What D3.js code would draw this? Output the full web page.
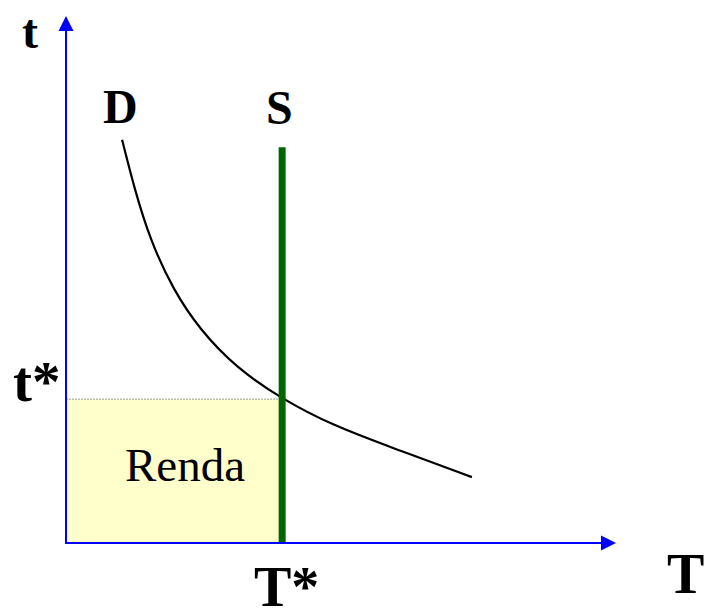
<!DOCTYPE html>
<html>
<head>
<meta charset="utf-8">
<script src="https://cdn.jsdelivr.net/npm/d3@7"></script>
<style>
  body { margin: 0; background: #fff; }
  svg text { font-family: "Liberation Serif", "Times New Roman", serif; fill: #000; }
</style>
</head>
<body>
<div id="chart"></div>
<script>
// demand curve D (T, t) in 0-100 units
var demandT = [10.2, 12.5, 15.3, 19.5, 24.4, 31.0, 39.3, 48.5, 59.5, 73.8];
var demandt = [76.5, 67.0, 57.5, 48.0, 40.4, 33.2, 27.3, 22.3, 18.0, 12.5];
// supply S is vertical at T*
var supplyT = [39.3, 39.3];
var supplyt = [0, 75.1];
var equilibrium = { T: 39.3, t: 27.3 };

var width = 706, height = 608;

var svg = d3.select("#chart")
    .append("svg")
    .attr("width", width)
    .attr("height", height);

var xScale = d3.scaleLinear().domain([0, 100]).range([66, 616]);
var yScale = d3.scaleLinear().domain([0, 100]).range([543, 16]);

// rent area
svg.append("rect")
    .attr("x", xScale(0))
    .attr("y", yScale(equilibrium.t))
    .attr("width", xScale(equilibrium.T) - xScale(0))
    .attr("height", yScale(0) - yScale(equilibrium.t))
    .attr("fill", "#ffffcc");

svg.append("line")
    .attr("x1", xScale(0))
    .attr("x2", xScale(equilibrium.T))
    .attr("y1", yScale(equilibrium.t))
    .attr("y2", yScale(equilibrium.t))
    .attr("stroke", "#999")
    .attr("stroke-width", 1)
    .attr("stroke-dasharray", "2,1");

svg.append("text")
    .attr("x", 125)
    .attr("y", 481)
    .attr("font-size", 47)
    .text("Renda");

// demand curve
var demand = demandT.map(function (d, i) { return [d, demandt[i]]; });
var line = d3.line()
    .x(function (d) { return xScale(d[0]); })
    .y(function (d) { return yScale(d[1]); })
    .curve(d3.curveBasis);

svg.append("path")
    .datum(demand)
    .attr("d", line)
    .attr("fill", "none")
    .attr("stroke", "#000")
    .attr("stroke-width", 2.2);

// supply line
svg.append("line")
    .attr("x1", xScale(supplyT[0]))
    .attr("x2", xScale(supplyT[1]))
    .attr("y1", yScale(supplyt[0]))
    .attr("y2", yScale(supplyt[1]))
    .attr("stroke", "#006600")
    .attr("stroke-width", 7);

// axes with arrowheads
var blue = "#0000ff";
svg.append("line")
    .attr("x1", xScale(0)).attr("x2", xScale(0))
    .attr("y1", yScale(0) + 1).attr("y2", yScale(100) + 12)
    .attr("stroke", blue).attr("stroke-width", 2);
svg.append("line")
    .attr("x1", xScale(0) - 1).attr("x2", xScale(100) - 12)
    .attr("y1", yScale(0)).attr("y2", yScale(0))
    .attr("stroke", blue).attr("stroke-width", 2);

var ax = xScale(0), ay = yScale(100);
svg.append("path")
    .attr("d", "M" + ax + "," + ay + "L" + (ax - 7.5) + "," + (ay + 15) + "L" + (ax + 7.5) + "," + (ay + 15) + "Z")
    .attr("fill", blue);
var bx = xScale(100), by = yScale(0);
svg.append("path")
    .attr("d", "M" + bx + "," + by + "L" + (bx - 15) + "," + (by - 7.5) + "L" + (bx - 15) + "," + (by + 7.5) + "Z")
    .attr("fill", blue);

// labels
var labels = [
    { text: "t", x: 22, y: 48, size: 48 },
    { text: "D", x: 103, y: 123, size: 48 },
    { text: "S", x: 266, y: 124, size: 48 },
    { text: "t*", x: 13, y: 401, size: 57 },
    { text: "T*", x: 254, y: 606, size: 56 },
    { text: "T", x: 667, y: 593, size: 56 }
];
svg.selectAll(".lbl")
    .data(labels)
    .enter()
    .append("text")
    .attr("class", "lbl")
    .attr("x", function (d) { return d.x; })
    .attr("y", function (d) { return d.y; })
    .attr("font-size", function (d) { return d.size; })
    .attr("font-weight", "bold")
    .text(function (d) { return d.text; });
</script>
</body>
</html>
